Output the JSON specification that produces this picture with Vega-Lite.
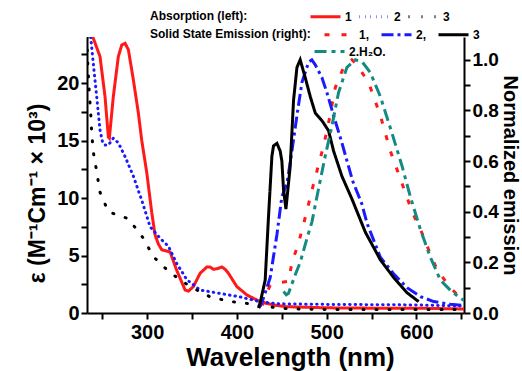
{
  "$schema": "https://vega.github.io/schema/vega-lite/v6.json",
  "width": 377,
  "height": 276,
  "autosize": {"type": "none"},
  "padding": {"left": 87, "top": 37, "right": 58, "bottom": 58},
  "background": "white",
  "config": {
    "view": {"stroke": null},
    "font": "Liberation Sans",
    "axis": {
      "grid": false,
      "domainColor": "black",
      "domainWidth": 2,
      "tickColor": "black",
      "tickWidth": 2,
      "tickSize": 6,
      "labelFont": "Liberation Sans",
      "labelFontSize": 20,
      "labelFontWeight": "bold",
      "labelColor": "black",
      "titleFont": "Liberation Sans",
      "titleFontWeight": "bold",
      "titleColor": "black"
    },
    "legend": {
      "padding": 0,
      "titleFont": "Liberation Sans",
      "titleFontSize": 12,
      "titleFontWeight": "bold",
      "titleColor": "black",
      "labelFont": "Liberation Sans",
      "labelFontSize": 12,
      "labelFontWeight": "bold",
      "labelColor": "black"
    }
  },
  "data": {
    "values": [
      {"kind": "abs", "series": "1", "wl": 237.5, "val": 24.0},
      {"kind": "abs", "series": "1", "wl": 240.0, "val": 23.9},
      {"kind": "abs", "series": "1", "wl": 247.5, "val": 22.3},
      {"kind": "abs", "series": "1", "wl": 253.1, "val": 18.8},
      {"kind": "abs", "series": "1", "wl": 256.8, "val": 15.3},
      {"kind": "abs", "series": "1", "wl": 257.9, "val": 15.2},
      {"kind": "abs", "series": "1", "wl": 262.3, "val": 18.8},
      {"kind": "abs", "series": "1", "wl": 267.9, "val": 22.3},
      {"kind": "abs", "series": "1", "wl": 271.7, "val": 23.3},
      {"kind": "abs", "series": "1", "wl": 275.4, "val": 23.45},
      {"kind": "abs", "series": "1", "wl": 279.1, "val": 22.9},
      {"kind": "abs", "series": "1", "wl": 284.6, "val": 20.3},
      {"kind": "abs", "series": "1", "wl": 290.2, "val": 17.4},
      {"kind": "abs", "series": "1", "wl": 294.0, "val": 15.0},
      {"kind": "abs", "series": "1", "wl": 299.6, "val": 12.2},
      {"kind": "abs", "series": "1", "wl": 305.2, "val": 8.7},
      {"kind": "abs", "series": "1", "wl": 308.8, "val": 6.8},
      {"kind": "abs", "series": "1", "wl": 312.5, "val": 6.0},
      {"kind": "abs", "series": "1", "wl": 316.3, "val": 5.5},
      {"kind": "abs", "series": "1", "wl": 325.6, "val": 5.3},
      {"kind": "abs", "series": "1", "wl": 333.0, "val": 3.7},
      {"kind": "abs", "series": "1", "wl": 342.3, "val": 2.0},
      {"kind": "abs", "series": "1", "wl": 346.0, "val": 1.9},
      {"kind": "abs", "series": "1", "wl": 351.5, "val": 2.3},
      {"kind": "abs", "series": "1", "wl": 359.0, "val": 3.45},
      {"kind": "abs", "series": "1", "wl": 366.5, "val": 4.0},
      {"kind": "abs", "series": "1", "wl": 370.0, "val": 4.0},
      {"kind": "abs", "series": "1", "wl": 373.8, "val": 3.8},
      {"kind": "abs", "series": "1", "wl": 378.0, "val": 3.85},
      {"kind": "abs", "series": "1", "wl": 383.2, "val": 4.0},
      {"kind": "abs", "series": "1", "wl": 387.0, "val": 3.8},
      {"kind": "abs", "series": "1", "wl": 390.6, "val": 3.45},
      {"kind": "abs", "series": "1", "wl": 399.9, "val": 2.3},
      {"kind": "abs", "series": "1", "wl": 411.1, "val": 1.57},
      {"kind": "abs", "series": "1", "wl": 425.9, "val": 0.98},
      {"kind": "abs", "series": "1", "wl": 440.4, "val": 0.7},
      {"kind": "abs", "series": "1", "wl": 455.0, "val": 0.55},
      {"kind": "abs", "series": "1", "wl": 500.0, "val": 0.45},
      {"kind": "abs", "series": "1", "wl": 550.0, "val": 0.42},
      {"kind": "abs", "series": "1", "wl": 600.0, "val": 0.42},
      {"kind": "abs", "series": "1", "wl": 653.0, "val": 0.35},

      {"kind": "abs", "series": "2", "wl": 237.1, "val": 24.0},
      {"kind": "abs", "series": "2", "wl": 240.0, "val": 21.7},
      {"kind": "abs", "series": "2", "wl": 243.8, "val": 18.8},
      {"kind": "abs", "series": "2", "wl": 247.5, "val": 15.9},
      {"kind": "abs", "series": "2", "wl": 250.5, "val": 14.8},
      {"kind": "abs", "series": "2", "wl": 253.1, "val": 14.6},
      {"kind": "abs", "series": "2", "wl": 256.8, "val": 14.6},
      {"kind": "abs", "series": "2", "wl": 262.3, "val": 15.2},
      {"kind": "abs", "series": "2", "wl": 267.9, "val": 14.8},
      {"kind": "abs", "series": "2", "wl": 275.4, "val": 13.6},
      {"kind": "abs", "series": "2", "wl": 284.6, "val": 11.9},
      {"kind": "abs", "series": "2", "wl": 294.0, "val": 9.8},
      {"kind": "abs", "series": "2", "wl": 303.3, "val": 7.5},
      {"kind": "abs", "series": "2", "wl": 314.4, "val": 6.5},
      {"kind": "abs", "series": "2", "wl": 323.7, "val": 5.8},
      {"kind": "abs", "series": "2", "wl": 333.0, "val": 4.3},
      {"kind": "abs", "series": "2", "wl": 344.2, "val": 2.9},
      {"kind": "abs", "series": "2", "wl": 359.0, "val": 2.0},
      {"kind": "abs", "series": "2", "wl": 381.3, "val": 1.7},
      {"kind": "abs", "series": "2", "wl": 403.6, "val": 1.4},
      {"kind": "abs", "series": "2", "wl": 425.9, "val": 0.98},
      {"kind": "abs", "series": "2", "wl": 445.0, "val": 0.8},
      {"kind": "abs", "series": "2", "wl": 500.0, "val": 0.75},
      {"kind": "abs", "series": "2", "wl": 600.0, "val": 0.7},
      {"kind": "abs", "series": "2", "wl": 653.0, "val": 0.6},

      {"kind": "abs", "series": "3", "wl": 233.0, "val": 24.0},
      {"kind": "abs", "series": "3", "wl": 233.3, "val": 22.6},
      {"kind": "abs", "series": "3", "wl": 234.4, "val": 20.9},
      {"kind": "abs", "series": "3", "wl": 235.6, "val": 19.1},
      {"kind": "abs", "series": "3", "wl": 237.1, "val": 17.4},
      {"kind": "abs", "series": "3", "wl": 238.2, "val": 15.7},
      {"kind": "abs", "series": "3", "wl": 240.0, "val": 14.0},
      {"kind": "abs", "series": "3", "wl": 243.8, "val": 12.3},
      {"kind": "abs", "series": "3", "wl": 247.5, "val": 10.5},
      {"kind": "abs", "series": "3", "wl": 256.8, "val": 8.8},
      {"kind": "abs", "series": "3", "wl": 268.0, "val": 8.5},
      {"kind": "abs", "series": "3", "wl": 279.1, "val": 8.2},
      {"kind": "abs", "series": "3", "wl": 295.8, "val": 6.5},
      {"kind": "abs", "series": "3", "wl": 306.9, "val": 4.9},
      {"kind": "abs", "series": "3", "wl": 325.6, "val": 3.5},
      {"kind": "abs", "series": "3", "wl": 347.9, "val": 2.3},
      {"kind": "abs", "series": "3", "wl": 370.2, "val": 1.4},
      {"kind": "abs", "series": "3", "wl": 392.5, "val": 1.0},
      {"kind": "abs", "series": "3", "wl": 414.8, "val": 0.8},
      {"kind": "abs", "series": "3", "wl": 437.1, "val": 0.52},
      {"kind": "abs", "series": "3", "wl": 459.4, "val": 0.35},
      {"kind": "abs", "series": "3", "wl": 500.0, "val": 0.3},
      {"kind": "abs", "series": "3", "wl": 600.0, "val": 0.3},
      {"kind": "abs", "series": "3", "wl": 653.0, "val": 0.3},

      {"kind": "em", "series": "1", "wl": 428.2, "val": 0.03},
      {"kind": "em", "series": "1", "wl": 431.5, "val": 0.065},
      {"kind": "em", "series": "1", "wl": 437.1, "val": 0.11},
      {"kind": "em", "series": "1", "wl": 447.0, "val": 0.12},
      {"kind": "em", "series": "1", "wl": 457.5, "val": 0.125},
      {"kind": "em", "series": "1", "wl": 461.3, "val": 0.2},
      {"kind": "em", "series": "1", "wl": 468.6, "val": 0.275},
      {"kind": "em", "series": "1", "wl": 474.2, "val": 0.35},
      {"kind": "em", "series": "1", "wl": 479.8, "val": 0.43},
      {"kind": "em", "series": "1", "wl": 485.4, "val": 0.51},
      {"kind": "em", "series": "1", "wl": 491.0, "val": 0.585},
      {"kind": "em", "series": "1", "wl": 496.5, "val": 0.66},
      {"kind": "em", "series": "1", "wl": 502.1, "val": 0.75},
      {"kind": "em", "series": "1", "wl": 509.6, "val": 0.89},
      {"kind": "em", "series": "1", "wl": 518.8, "val": 0.97},
      {"kind": "em", "series": "1", "wl": 528.2, "val": 1.0},
      {"kind": "em", "series": "1", "wl": 533.8, "val": 0.98},
      {"kind": "em", "series": "1", "wl": 546.7, "val": 0.91},
      {"kind": "em", "series": "1", "wl": 559.8, "val": 0.78},
      {"kind": "em", "series": "1", "wl": 570.9, "val": 0.64},
      {"kind": "em", "series": "1", "wl": 582.1, "val": 0.53},
      {"kind": "em", "series": "1", "wl": 595.1, "val": 0.4},
      {"kind": "em", "series": "1", "wl": 606.3, "val": 0.315},
      {"kind": "em", "series": "1", "wl": 613.6, "val": 0.25},
      {"kind": "em", "series": "1", "wl": 623.0, "val": 0.17},
      {"kind": "em", "series": "1", "wl": 637.8, "val": 0.1},
      {"kind": "em", "series": "1", "wl": 652.0, "val": 0.05},

      {"kind": "em", "series": "2", "wl": 424.5, "val": 0.02},
      {"kind": "em", "series": "2", "wl": 427.8, "val": 0.04},
      {"kind": "em", "series": "2", "wl": 437.1, "val": 0.14},
      {"kind": "em", "series": "2", "wl": 444.6, "val": 0.31},
      {"kind": "em", "series": "2", "wl": 450.1, "val": 0.46},
      {"kind": "em", "series": "2", "wl": 455.7, "val": 0.51},
      {"kind": "em", "series": "2", "wl": 461.3, "val": 0.64},
      {"kind": "em", "series": "2", "wl": 466.9, "val": 0.78},
      {"kind": "em", "series": "2", "wl": 472.4, "val": 0.91},
      {"kind": "em", "series": "2", "wl": 479.8, "val": 0.99},
      {"kind": "em", "series": "2", "wl": 483.5, "val": 1.0},
      {"kind": "em", "series": "2", "wl": 487.3, "val": 0.98},
      {"kind": "em", "series": "2", "wl": 494.7, "val": 0.93},
      {"kind": "em", "series": "2", "wl": 500.3, "val": 0.87},
      {"kind": "em", "series": "2", "wl": 507.7, "val": 0.78},
      {"kind": "em", "series": "2", "wl": 516.3, "val": 0.68},
      {"kind": "em", "series": "2", "wl": 529.1, "val": 0.52},
      {"kind": "em", "series": "2", "wl": 539.3, "val": 0.43},
      {"kind": "em", "series": "2", "wl": 544.9, "val": 0.355},
      {"kind": "em", "series": "2", "wl": 559.8, "val": 0.22},
      {"kind": "em", "series": "2", "wl": 574.6, "val": 0.155},
      {"kind": "em", "series": "2", "wl": 589.5, "val": 0.1},
      {"kind": "em", "series": "2", "wl": 604.4, "val": 0.065},
      {"kind": "em", "series": "2", "wl": 619.2, "val": 0.045},
      {"kind": "em", "series": "2", "wl": 637.8, "val": 0.035},
      {"kind": "em", "series": "2", "wl": 652.0, "val": 0.03},

      {"kind": "em", "series": "3", "wl": 424.0, "val": 0.02},
      {"kind": "em", "series": "3", "wl": 425.9, "val": 0.04},
      {"kind": "em", "series": "3", "wl": 431.5, "val": 0.13},
      {"kind": "em", "series": "3", "wl": 435.2, "val": 0.38},
      {"kind": "em", "series": "3", "wl": 439.0, "val": 0.62},
      {"kind": "em", "series": "3", "wl": 440.8, "val": 0.66},
      {"kind": "em", "series": "3", "wl": 444.6, "val": 0.67},
      {"kind": "em", "series": "3", "wl": 448.2, "val": 0.64},
      {"kind": "em", "series": "3", "wl": 450.1, "val": 0.6},
      {"kind": "em", "series": "3", "wl": 451.9, "val": 0.49},
      {"kind": "em", "series": "3", "wl": 454.6, "val": 0.41},
      {"kind": "em", "series": "3", "wl": 459.4, "val": 0.58},
      {"kind": "em", "series": "3", "wl": 463.1, "val": 0.84},
      {"kind": "em", "series": "3", "wl": 466.9, "val": 0.97},
      {"kind": "em", "series": "3", "wl": 470.5, "val": 1.0},
      {"kind": "em", "series": "3", "wl": 476.1, "val": 0.93},
      {"kind": "em", "series": "3", "wl": 481.7, "val": 0.855},
      {"kind": "em", "series": "3", "wl": 487.3, "val": 0.79},
      {"kind": "em", "series": "3", "wl": 494.7, "val": 0.76},
      {"kind": "em", "series": "3", "wl": 502.1, "val": 0.72},
      {"kind": "em", "series": "3", "wl": 507.7, "val": 0.64},
      {"kind": "em", "series": "3", "wl": 517.0, "val": 0.54},
      {"kind": "em", "series": "3", "wl": 528.2, "val": 0.45},
      {"kind": "em", "series": "3", "wl": 543.0, "val": 0.32},
      {"kind": "em", "series": "3", "wl": 559.8, "val": 0.21},
      {"kind": "em", "series": "3", "wl": 574.6, "val": 0.14},
      {"kind": "em", "series": "3", "wl": 589.5, "val": 0.08},
      {"kind": "em", "series": "3", "wl": 602.5, "val": 0.045},

      {"kind": "h2o", "series": "H2O", "wl": 451.9, "val": 0.085},
      {"kind": "h2o", "series": "H2O", "wl": 455.0, "val": 0.072},
      {"kind": "h2o", "series": "H2O", "wl": 457.5, "val": 0.078},
      {"kind": "h2o", "series": "H2O", "wl": 464.9, "val": 0.15},
      {"kind": "h2o", "series": "H2O", "wl": 470.5, "val": 0.2},
      {"kind": "h2o", "series": "H2O", "wl": 478.5, "val": 0.3},
      {"kind": "h2o", "series": "H2O", "wl": 483.6, "val": 0.36},
      {"kind": "h2o", "series": "H2O", "wl": 490.9, "val": 0.49},
      {"kind": "h2o", "series": "H2O", "wl": 498.4, "val": 0.62},
      {"kind": "h2o", "series": "H2O", "wl": 505.9, "val": 0.74},
      {"kind": "h2o", "series": "H2O", "wl": 513.2, "val": 0.87},
      {"kind": "h2o", "series": "H2O", "wl": 522.6, "val": 0.97},
      {"kind": "h2o", "series": "H2O", "wl": 531.9, "val": 1.0},
      {"kind": "h2o", "series": "H2O", "wl": 540.0, "val": 0.99},
      {"kind": "h2o", "series": "H2O", "wl": 548.6, "val": 0.95},
      {"kind": "h2o", "series": "H2O", "wl": 559.8, "val": 0.855},
      {"kind": "h2o", "series": "H2O", "wl": 572.8, "val": 0.71},
      {"kind": "h2o", "series": "H2O", "wl": 584.0, "val": 0.58},
      {"kind": "h2o", "series": "H2O", "wl": 593.2, "val": 0.46},
      {"kind": "h2o", "series": "H2O", "wl": 604.4, "val": 0.33},
      {"kind": "h2o", "series": "H2O", "wl": 615.5, "val": 0.22},
      {"kind": "h2o", "series": "H2O", "wl": 626.7, "val": 0.13},
      {"kind": "h2o", "series": "H2O", "wl": 637.8, "val": 0.09},
      {"kind": "h2o", "series": "H2O", "wl": 649.0, "val": 0.058},
      {"kind": "h2o", "series": "H2O", "wl": 653.0, "val": 0.05}
    ]
  },
  "layer": [
    {
      "transform": [{"filter": "datum.kind === 'abs'"}],
      "mark": {"type": "line", "strokeWidth": 3, "strokeCap": "round", "clip": true},
      "encoding": {
        "x": {
          "field": "wl", "type": "quantitative",
          "scale": {"domain": [233, 653], "nice": false, "zero": false},
          "axis": {
            "title": "Wavelength (nm)",
            "titleFontSize": 26,
            "titlePadding": 2,
            "titleX": 203,
            "labelPadding": 3,
            "values": [250, 300, 350, 400, 450, 500, 550, 600, 650],
            "labelExpr": "datum.value % 100 === 0 ? datum.label : ''",
            "labelFlush": false
          }
        },
        "y": {
          "field": "val", "type": "quantitative",
          "scale": {"domain": [0, 24], "nice": false},
          "axis": {
            "title": "ε (M⁻¹Cm⁻¹ × 10³)",
            "titleFontSize": 23,
            "titlePadding": 7,
            "titleY": 156,
            "labelPadding": 2,
            "values": [0, 2.5, 5, 7.5, 10, 12.5, 15, 17.5, 20, 22.5],
            "labelExpr": "datum.value % 5 === 0 ? datum.label : ''"
          }
        },
        "color": {
          "field": "series", "type": "nominal",
          "scale": {"domain": ["1", "2", "3"], "range": ["#ff1919", "#1a1aff", "#000000"]},
          "legend": {
            "title": "Absorption (left):",
            "orient": "none", "legendX": 63, "legendY": -28,
            "direction": "horizontal",
            "titleOrient": "left", "titlePadding": 61,
            "symbolType": "M-1,0H4", "symbolSize": 144, "symbolStrokeWidth": 3,
            "labelOffset": 21, "columnPadding": 1
          }
        },
        "strokeDash": {
          "field": "series", "type": "nominal",
          "scale": {"domain": ["1", "2", "3"], "range": [[1, 0], [0.5, 5], [1, 12]]},
          "legend": {
            "title": "Absorption (left):",
            "orient": "none", "legendX": 63, "legendY": -28,
            "direction": "horizontal",
            "titleOrient": "left", "titlePadding": 61,
            "symbolType": "M-1,0H4", "symbolSize": 144, "symbolStrokeWidth": 3,
            "labelOffset": 21, "columnPadding": 1
          }
        }
      }
    },
    {
      "transform": [{"filter": "datum.kind === 'em'"}],
      "mark": {"type": "line", "strokeWidth": 3, "clip": true},
      "encoding": {
        "x": {"field": "wl", "type": "quantitative"},
        "y": {
          "field": "val", "type": "quantitative",
          "scale": {"domain": [0, 1.09], "nice": false},
          "axis": {
            "title": "Normalized emission",
            "titleFontSize": 20,
            "titlePadding": 1,
            "labelFontSize": 19,
            "labelPadding": 2,
            "values": [0, 0.1, 0.2, 0.3, 0.4, 0.5, 0.6, 0.7, 0.8, 0.9, 1.0],
            "labelExpr": "round(datum.value * 10) % 2 === 0 ? format(datum.value, '.1f') : ''"
          }
        },
        "color": {
          "field": "series", "type": "nominal",
          "scale": {"domain": ["1", "2", "3"], "range": ["#ff1919", "#1a1aff", "#000000"]},
          "legend": {
            "title": "Solid State Emission (right):",
            "orient": "none", "legendX": 63, "legendY": -10,
            "direction": "horizontal",
            "titleOrient": "left", "titlePadding": 12,
            "symbolType": "M-1,0H4", "symbolSize": 144, "symbolStrokeWidth": 3,
            "labelOffset": 21, "columnPadding": 5,
            "labelExpr": "datum.value === '3' ? '3' : datum.value + ','"
          }
        },
        "strokeDash": {
          "field": "series", "type": "nominal",
          "scale": {"domain": ["1", "2", "3"], "range": [[5, 12], [12, 4, 3, 4], [1, 0]]},
          "legend": {
            "title": "Solid State Emission (right):",
            "orient": "none", "legendX": 63, "legendY": -10,
            "direction": "horizontal",
            "titleOrient": "left", "titlePadding": 12,
            "symbolType": "M-1,0H4", "symbolSize": 144, "symbolStrokeWidth": 3,
            "labelOffset": 21, "columnPadding": 5,
            "labelExpr": "datum.value === '3' ? '3' : datum.value + ','"
          }
        }
      }
    },
    {
      "transform": [{"filter": "datum.kind === 'h2o'"}],
      "mark": {"type": "line", "strokeWidth": 3, "clip": true},
      "encoding": {
        "x": {"field": "wl", "type": "quantitative"},
        "y": {
          "field": "val", "type": "quantitative",
          "scale": {"domain": [0, 1.09], "nice": false},
          "axis": null
        },
        "color": {
          "field": "series", "type": "nominal",
          "scale": {"domain": ["H2O"], "range": ["#138a82"]},
          "legend": {
            "title": null,
            "orient": "none", "legendX": 226, "legendY": 7,
            "symbolType": "M-1,0H4", "symbolSize": 144, "symbolStrokeWidth": 3,
            "labelOffset": 21,
            "labelExpr": "'2.H₂O.'"
          }
        },
        "strokeDash": {
          "field": "series", "type": "nominal",
          "scale": {"domain": ["H2O"], "range": [[12, 5, 4, 5]]},
          "legend": {
            "title": null,
            "orient": "none", "legendX": 226, "legendY": 7,
            "symbolType": "M-1,0H4", "symbolSize": 144, "symbolStrokeWidth": 3,
            "labelOffset": 21,
            "labelExpr": "'2.H₂O.'"
          }
        }
      }
    }
  ],
  "resolve": {"scale": {"y": "independent", "color": "independent", "strokeDash": "independent"}}
}
